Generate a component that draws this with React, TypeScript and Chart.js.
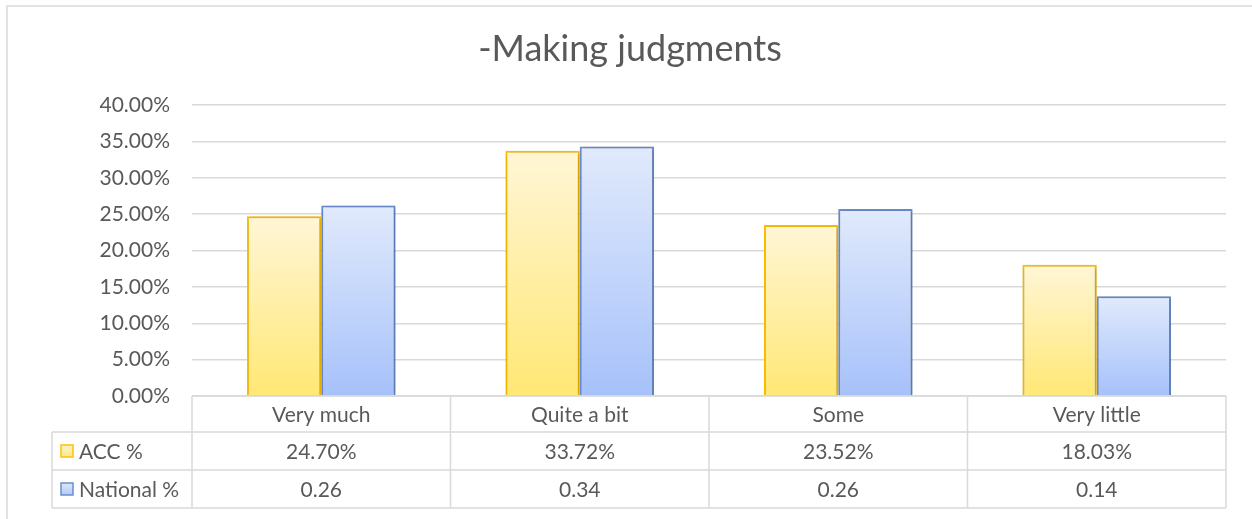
import React, { useEffect, useRef } from "react";
import { Chart, registerables } from "chart.js";

Chart.register(...registerables);

const titleText = "-Making judgments";
const categories = ["Very much", "Quite a bit", "Some", "Very little"];
const accValues = [24.7, 33.72, 23.52, 18.03];
const nationalValues = [26.2, 34.3, 25.7, 13.7];
const accTableLabels = ["24.70%", "33.72%", "23.52%", "18.03%"];
const nationalTableLabels = ["0.26", "0.34", "0.26", "0.14"];
const seriesNames = ["ACC %", "National %"];
const yTicks = [0, 5, 10, 15, 20, 25, 30, 35, 40];

const FONT = "Lato, 'Open Sans', sans-serif";
const TEXT = "#595959";
const LINE = "#d9d9d9";

const W = 1252;
const H = 519;
const HEADER_H = 36;
const ROW_H = 38;
const LEGEND_LEFT = 52;

function barGradient(ctx: any, top: string, bottom: string) {
  const chart = ctx.chart;
  const y = chart.scales?.y;
  if (!y || ctx.type !== "data") return bottom;
  const v = ctx.parsed?.y ?? ctx.raw;
  const yTop = y.getPixelForValue(v);
  const yBot = y.getPixelForValue(0);
  if (!isFinite(yTop) || !isFinite(yBot) || yTop === yBot) return bottom;
  const g = chart.ctx.createLinearGradient(0, yTop, 0, yBot);
  g.addColorStop(0, top);
  g.addColorStop(1, bottom);
  return g;
}

const framePlugin = {
  id: "frameAndTable",
  beforeDraw(chart: any) {
    const c = chart.ctx;
    c.save();
    c.fillStyle = "#ffffff";
    c.fillRect(0, 0, W, H);
    c.strokeStyle = LINE;
    c.lineWidth = 1.5;
    c.strokeRect(7, 6, W + 20, H + 20);
    // title
    c.fillStyle = TEXT;
    c.font = `36px ${FONT}`;
    c.textAlign = "center";
    c.textBaseline = "middle";
    c.fillText(titleText, 630, 49);
    c.restore();
  },
  beforeDatasetsDraw(chart: any) {
    const c = chart.ctx;
    c.save();
    c.shadowColor = "rgba(0,0,0,0.25)";
    c.shadowBlur = 4;
    c.shadowOffsetX = 1;
    c.shadowOffsetY = 1;
  },
  afterDatasetsDraw(chart: any) {
    chart.ctx.restore();
  },
  afterDraw(chart: any) {
    const c = chart.ctx;
    const x = chart.scales.x;
    const area = chart.chartArea;
    const top = area.bottom;
    const n = categories.length;
    const half = (x.getPixelForValue(1) - x.getPixelForValue(0)) / 2;
    const edges: number[] = [];
    for (let i = 0; i < n; i++) edges.push(x.getPixelForValue(i) - half);
    edges.push(x.getPixelForValue(n - 1) + half);
    const r1 = top + HEADER_H;
    const r2 = r1 + ROW_H;
    const r3 = r2 + ROW_H;
    c.save();
    c.strokeStyle = LINE;
    c.lineWidth = 1.5;
    c.beginPath();
    c.moveTo(edges[0], top);
    c.lineTo(edges[n], top);
    c.moveTo(LEGEND_LEFT, r1);
    c.lineTo(edges[n], r1);
    c.moveTo(LEGEND_LEFT, r2);
    c.lineTo(edges[n], r2);
    c.moveTo(LEGEND_LEFT, r3);
    c.lineTo(edges[n], r3);
    for (let i = 0; i <= n; i++) {
      c.moveTo(edges[i], top);
      c.lineTo(edges[i], r3);
    }
    c.moveTo(LEGEND_LEFT, r1);
    c.lineTo(LEGEND_LEFT, r3);
    c.stroke();

    c.fillStyle = TEXT;
    c.font = `21px ${FONT}`;
    c.textAlign = "center";
    c.textBaseline = "middle";
    for (let i = 0; i < n; i++) {
      const cx = x.getPixelForValue(i);
      c.fillText(categories[i], cx, (top + r1) / 2 + 1);
      c.fillText(accTableLabels[i], cx, (r1 + r2) / 2 + 1);
      c.fillText(nationalTableLabels[i], cx, (r2 + r3) / 2 + 1);
    }
    const keys = [
      { name: seriesNames[0], fillTop: "#fff4cc", fillBot: "#ffe88a", stroke: "#ffc000", y: (r1 + r2) / 2 },
      { name: seriesNames[1], fillTop: "#dde7fb", fillBot: "#b4c9f6", stroke: "#6a8ed0", y: (r2 + r3) / 2 },
    ];
    for (const k of keys) {
      const g = c.createLinearGradient(0, k.y - 6, 0, k.y + 6);
      g.addColorStop(0, k.fillTop);
      g.addColorStop(1, k.fillBot);
      c.fillStyle = g;
      c.fillRect(61, k.y - 6, 12, 12);
      c.strokeStyle = k.stroke;
      c.lineWidth = 1.5;
      c.strokeRect(61, k.y - 6, 12, 12);
      c.fillStyle = TEXT;
      c.textAlign = "left";
      c.fillText(k.name, 79, k.y + 1);
    }
    c.restore();
  },
};

export default function App() {
  const ref = useRef<HTMLCanvasElement | null>(null);
  useEffect(() => {
    if (!ref.current) return;
    const chart = new Chart(ref.current, {
      type: "bar",
      data: {
        labels: categories,
        datasets: [
          {
            label: seriesNames[0],
            data: accValues,
            backgroundColor: (ctx: any) => barGradient(ctx, "#fff6d6", "#ffe875"),
            borderColor: "#ffc000",
            borderWidth: 2,
            categoryPercentage: 0.575,
            barPercentage: 1,
          },
          {
            label: seriesNames[1],
            data: nationalValues,
            backgroundColor: (ctx: any) => barGradient(ctx, "#e1eafc", "#a6c1fa"),
            borderColor: "#6a8ed0",
            borderWidth: 2,
            categoryPercentage: 0.575,
            barPercentage: 1,
          },
        ],
      },
      options: {
        responsive: false,
        animation: false,
        layout: { padding: { left: 0, right: 26, top: 105, bottom: 123 } },
        plugins: {
          legend: { display: false },
          title: { display: false },
          tooltip: { enabled: false },
        },
        scales: {
          x: { display: false },
          y: {
            min: 0,
            max: 40,
            afterFit: (scale: any) => {
              scale.width = 192;
            },
            afterBuildTicks: (scale: any) => {
              scale.ticks = yTicks.map((v) => ({ value: v }));
            },
            ticks: {
              padding: 22,
              color: TEXT,
              font: { family: FONT, size: 21 },
              callback: (v: any) => Number(v).toFixed(2) + "%",
            },
            grid: { color: LINE, lineWidth: 1.5, drawTicks: false },
            border: { display: false },
          },
        },
      },
      plugins: [framePlugin],
    });
    return () => chart.destroy();
  }, []);
  return (
    <div style={{ position: "fixed", left: 0, top: 0, width: W, height: H, background: "#fff" }}>
      <canvas ref={ref} width={W} height={H} style={{ width: W, height: H, display: "block" }} />
    </div>
  );
}
